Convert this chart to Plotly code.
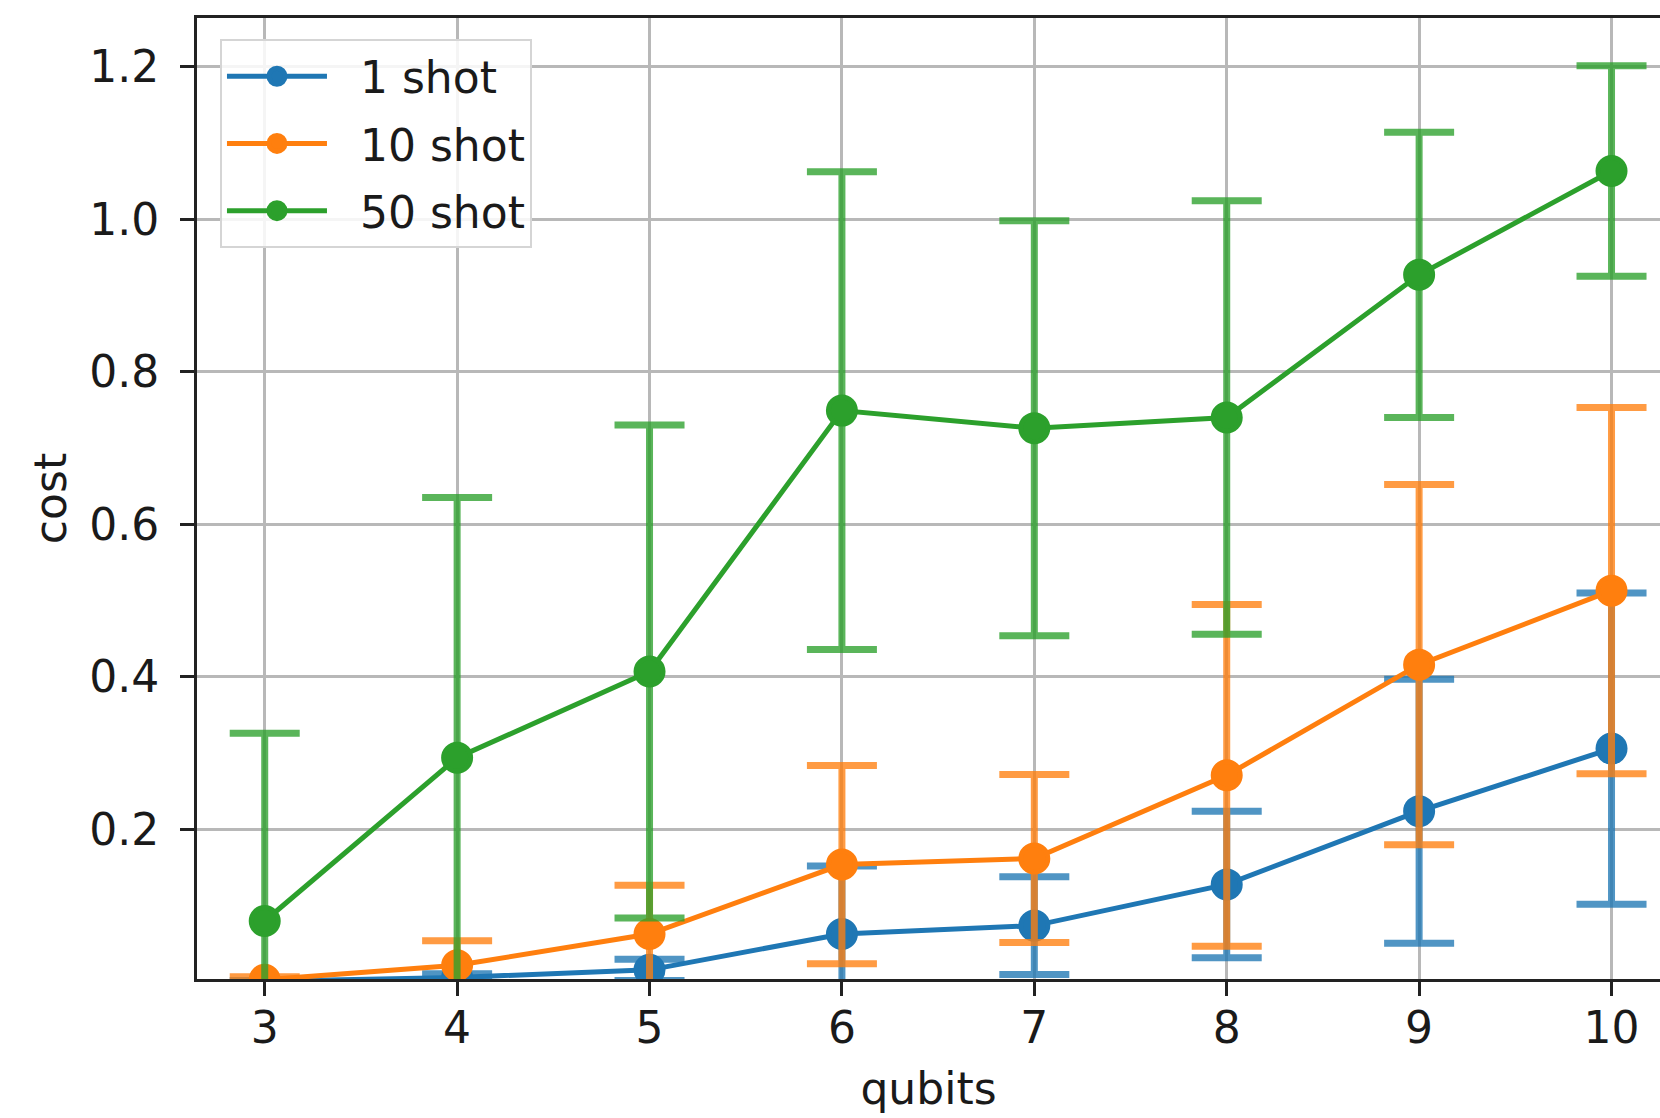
import plotly.graph_objects as go

# qubit counts on the x axis
qubits = [3, 4, 5, 6, 7, 8, 9, 10]

# mean cost and its spread for each shot count
cost_1shot = [0.001, 0.006, 0.016, 0.063, 0.074, 0.128, 0.224, 0.306]
err_1shot = [0.001, 0.005, 0.014, 0.089, 0.064, 0.096, 0.173, 0.204]

cost_10shot = [0.003, 0.022, 0.063, 0.154, 0.162, 0.271, 0.416, 0.513]
err_10shot = [0.004, 0.032, 0.064, 0.130, 0.110, 0.224, 0.236, 0.240]

cost_50shot = [0.080, 0.294, 0.407, 0.749, 0.726, 0.740, 0.927, 1.063]
err_50shot = [0.246, 0.341, 0.323, 0.313, 0.272, 0.284, 0.187, 0.138]

series_names = ["1 shot", "10 shot", "50 shot"]
series_colors = ["#1f77b4", "#ff7f0e", "#2ca02c"]
series_bar_colors = ["rgba(31,119,180,0.78)", "rgba(255,127,14,0.78)", "rgba(44,160,44,0.78)"]

y_tick_vals = [0.2, 0.4, 0.6, 0.8, 1.0, 1.2]
y_tick_text = ["0.2", "0.4", "0.6", "0.8", "1.0", "1.2"]

FONT = "DejaVu Sans, Bitstream Vera Sans, sans-serif"
FS = 44
TEXT_COLOR = "#1a1a1a"

# non-breaking spaces push the legend labels away from their symbols
LEGEND_PAD = "\u00a0\u00a0"

fig = go.Figure()

for name, color, bar_color, ys, es in zip(
    series_names,
    series_colors,
    series_bar_colors,
    [cost_1shot, cost_10shot, cost_50shot],
    [err_1shot, err_10shot, err_50shot],
):
    fig.add_trace(
        go.Scatter(
            x=qubits,
            y=ys,
            name=LEGEND_PAD + name,
            legendgroup=name,
            mode="lines+markers",
            line=dict(color=color, width=5),
            marker=dict(color=color, size=27, line=dict(color=color, width=5)),
            error_y=dict(
                type="data",
                array=es,
                visible=True,
                color=bar_color,
                thickness=7,
                width=35,
            ),
            cliponaxis=True,
        )
    )

fig.update_layout(
    width=1660,
    height=1118,
    margin=dict(l=197, r=0, t=18, b=139),
    paper_bgcolor="white",
    plot_bgcolor="white",
    font=dict(family=FONT, size=FS, color=TEXT_COLOR),
    showlegend=True,
    legend=dict(
        x=0.0157,
        y=0.978,
        xanchor="left",
        yanchor="top",
        bgcolor="rgba(255,255,255,0.85)",
        bordercolor="#d5d5d5",
        borderwidth=2,
        font=dict(family=FONT, size=FS, color=TEXT_COLOR),
        itemwidth=100,
        tracegroupgap=7,
    ),
)

fig.update_xaxes(
    range=[2.648, 10.252],
    tickvals=qubits,
    ticktext=[str(q) for q in qubits],
    showgrid=True,
    gridcolor="#b8b8b8",
    gridwidth=2.5,
    zeroline=False,
    showline=True,
    linecolor="#222222",
    linewidth=3,
    mirror=True,
    ticks="outside",
    ticklen=14,
    tickwidth=2.5,
    tickcolor="#222222",
    ticklabelstandoff=-6,
    title=dict(text="qubits", font=dict(family=FONT, size=FS, color=TEXT_COLOR), standoff=22),
)

fig.update_yaxes(
    range=[0.004, 1.2636],
    tickvals=y_tick_vals,
    ticktext=y_tick_text,
    showgrid=True,
    gridcolor="#b8b8b8",
    gridwidth=2.5,
    zeroline=False,
    showline=True,
    linecolor="#222222",
    linewidth=3,
    mirror=False,
    ticks="outside",
    ticklen=14,
    tickwidth=2.5,
    tickcolor="#222222",
    ticklabelstandoff=12,
    title=dict(text="cost", font=dict(family=FONT, size=FS, color=TEXT_COLOR), standoff=9),
)

fig.write_html("out.html")
